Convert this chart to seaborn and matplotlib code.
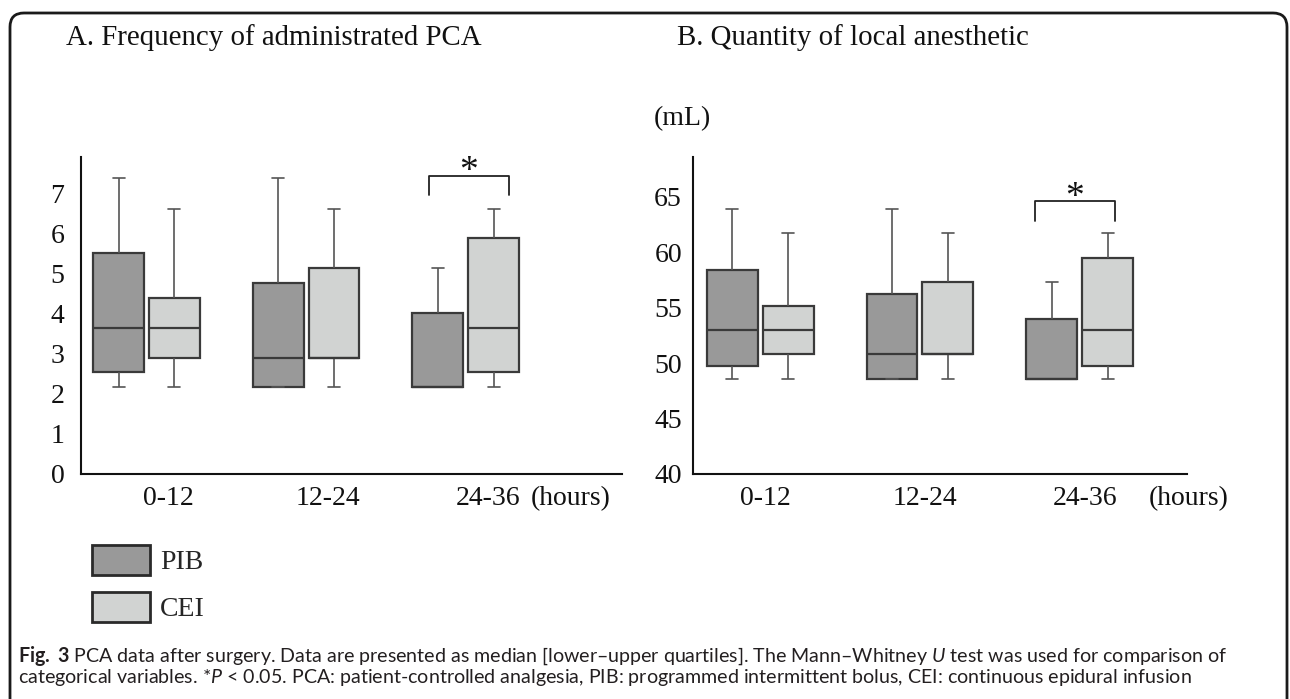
import matplotlib
matplotlib.use("Agg")
import matplotlib.pyplot as plt
from matplotlib.patches import FancyBboxPatch, Patch
from matplotlib.transforms import IdentityTransform
import pandas as pd
import seaborn as sns

PERIODS = ["0-12", "12-24", "24-36"]
GROUPS = ["PIB", "CEI"]

# five-number summaries: [min, q1, median, q3, max] per period
FREQ_PIB = [[2.16, 2.53, 3.64, 5.51, 7.37],
            [2.16, 2.16, 2.88, 4.76, 7.37],
            [2.16, 2.16, 2.16, 4.01, 5.13]]
FREQ_CEI = [[2.16, 2.88, 3.64, 4.39, 6.61],
            [2.16, 2.88, 2.88, 5.13, 6.61],
            [2.16, 2.53, 3.64, 5.88, 6.61]]
VOL_PIB = [[48.6, 49.7, 53.0, 58.4, 63.9],
           [48.6, 48.6, 50.8, 56.2, 63.9],
           [48.6, 48.6, 48.6, 54.0, 57.3]]
VOL_CEI = [[48.6, 50.8, 53.0, 55.2, 61.7],
           [48.6, 50.8, 50.8, 57.3, 61.7],
           [48.6, 49.7, 53.0, 59.5, 61.7]]

FREQ_TICKS = [0, 1, 2, 3, 4, 5, 6, 7]
VOL_TICKS = [40, 45, 50, 55, 60, 65]

COLORS = {"PIB": "#999999", "CEI": "#d1d3d2"}
EDGE = "#3a3a3a"
WHISK = "#555555"
INK = "#111111"
SERIF_SIZE = 20


def long_table(pib, cei):
    rows = []
    for group, summaries in (("PIB", pib), ("CEI", cei)):
        for period, values in zip(PERIODS, summaries):
            for v in values:
                rows.append({"period": period, "group": group, "value": v})
    return pd.DataFrame(rows)


def draw_panel(ax, df, ticks, ylim, xlim, label_shift, hours_x, ypad, bracket, star_y):
    sns.boxplot(data=df, x="period", y="value", hue="group", order=PERIODS,
                hue_order=GROUPS, palette=COLORS, width=0.7, gap=0.09,
                whis=(0, 100), linecolor=EDGE, linewidth=1.6, legend=False,
                capwidths=0.075,
                whiskerprops={"color": WHISK, "linewidth": 1.2},
                capprops={"color": WHISK, "linewidth": 1.2},
                medianprops={"color": EDGE, "linewidth": 1.6},
                ax=ax)
    ax.set_ylim(*ylim)
    ax.set_xlim(*xlim)
    ax.set_yticks(ticks)
    ax.set_yticklabels([str(t) for t in ticks])
    ax.set_xticks([i + label_shift for i in range(len(PERIODS))])
    ax.set_xticklabels(PERIODS)
    ax.set_xlabel("")
    ax.set_ylabel("")
    ax.tick_params(length=0, labelsize=SERIF_SIZE, colors=INK)
    ax.tick_params(axis="x", pad=9)
    ax.tick_params(axis="y", pad=ypad)
    for side in ("top", "right"):
        ax.spines[side].set_visible(False)
    for side in ("left", "bottom"):
        ax.spines[side].set_color(INK)
        ax.spines[side].set_linewidth(1.5)

    # unit label placed on the same line as the tick labels
    trans, va, ha = ax.get_xaxis_text1_transform(9)
    ax.text(hours_x, 0, "(hours)", transform=trans, va=va, ha=ha,
            fontsize=SERIF_SIZE, color=INK)

    x0, x1, ylo, yhi = bracket
    ax.plot([x0, x0, x1, x1], [ylo, yhi, yhi, ylo], color="#222222", lw=1.3,
            clip_on=False)
    ax.text((x0 + x1) / 2, star_y, "*", ha="center", va="center",
            fontsize=27, color=INK)


sns.set_style("white")
plt.rcParams["font.family"] = ["Liberation Serif", "DejaVu Serif"]
plt.rcParams["mathtext.fontset"] = "custom"
plt.rcParams["mathtext.rm"] = "Lato"
plt.rcParams["mathtext.it"] = "Lato:italic"
plt.rcParams["mathtext.bf"] = "Lato:bold"

fig = plt.figure(figsize=(12.9, 6.99), dpi=100)

ax_a = fig.add_axes([0.0628, 0.3219, 0.4194, 0.4535])
draw_panel(ax_a, long_table(FREQ_PIB, FREQ_CEI), FREQ_TICKS, (0, 7.9),
           (-0.41, 2.98), 0.14, 2.66, 12, (1.77, 2.27, 6.96, 7.43), 7.52)

ax_b = fig.add_axes([0.5372, 0.3219, 0.3829, 0.4535])
draw_panel(ax_b, long_table(VOL_PIB, VOL_CEI), VOL_TICKS, (40, 68.6),
           (-0.42, 2.67), 0.03, 2.68, 8, (1.72, 2.22, 62.8, 64.6), 64.95)

fig.text(0.0512, 0.947, "A. Frequency of administrated PCA", fontsize=20.8,
         va="center", color=INK)
fig.text(0.5248, 0.947, "B. Quantity of local anesthetic", fontsize=20.8,
         va="center", color=INK)
fig.text(0.507, 0.831, "(mL)", fontsize=SERIF_SIZE, va="center", color=INK)

handles = [Patch(facecolor=COLORS[g], edgecolor="#2a2a2a", linewidth=2, label=g)
           for g in GROUPS]
fig.legend(handles=handles, loc="upper left", bbox_to_anchor=(0.0713, 0.2203),
           frameon=False, fontsize=SERIF_SIZE, handlelength=2.09, handleheight=1.3,
           handletextpad=0.35, labelspacing=0.58, borderpad=0, borderaxespad=0)

caption_1 = (r"$\mathbf{Fig.\ 3}$ PCA data after surgery. Data are presented as median "
             r"[lower–upper quartiles]. The Mann–Whitney $\mathit{U}$ test was used for comparison of")
caption_2 = (r"categorical variables. *$\mathit{P}$ < 0.05. PCA: patient-controlled analgesia, "
             r"PIB: programmed intermittent bolus, CEI: continuous epidural infusion")
cap_1 = fig.text(0.014, 0.062, caption_1, fontsize=12, family="Lato",
                 color="#231f20", va="center")
cap_2 = fig.text(0.014, 0.031, caption_2, fontsize=12, family="Lato",
                 color="#231f20", va="center")

# size the caption so its first line spans the same width as in the figure
renderer = fig.canvas.get_renderer()
scale = 1207 / cap_1.get_window_extent(renderer).width
cap_1.set_fontsize(12 * scale)
cap_2.set_fontsize(12 * scale)

frame = FancyBboxPatch((10, -40), 1277, 726, boxstyle="round,pad=0,rounding_size=14",
                       transform=IdentityTransform(), fill=False, lw=2,
                       edgecolor="#1a1a1a")
fig.add_artist(frame)

fig.savefig("out.png", dpi=100)
plt.close(fig)
